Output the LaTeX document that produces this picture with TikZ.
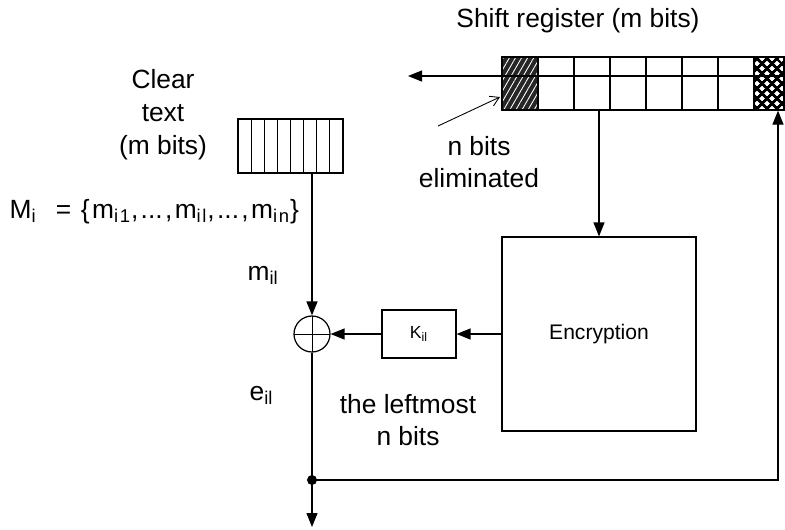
\documentclass[tikz,border=0pt]{standalone}
\usepackage{fontspec}
\setmainfont{Liberation Sans}
\newfontfamily\widefont[LetterSpace=9]{Liberation Sans}
\usetikzlibrary{arrows.meta,patterns.meta}

\tikzset{
	arr/.style={-{Triangle[length=0.28cm,width=0.22cm]}},
	blk/.style={draw, line width=0.7pt, inner sep=0pt},
	lbl/.style={font=\fontsize{15}{18.7}\selectfont, inner sep=0pt, align=center},
}
\newcommand{\sbs}[1]{\textsubscript{#1}}

\begin{document}
\begin{tikzpicture}[x=0.02cm, y=-0.02cm, line width=0.7pt]
	\useasboundingbox (0,0) rectangle (785,529);
	% Shift register:
	\fill[black!85] (502,57) rectangle (538,110);
	\fill[pattern={Lines[angle=60,distance=3pt,line width=0.5pt]}, pattern color=white] (502,57) rectangle (538,110);
	\fill[pattern={Lines[angle=45,distance=0.14cm,line width=0.06cm]}] (754,57) rectangle (784,110);
	\fill[pattern={Lines[angle=-45,distance=0.14cm,line width=0.06cm]}] (754,57) rectangle (784,110);
	\node[blk, minimum width=5.64cm, minimum height=1.06cm] (reg) at (643,83.5) {};
	\draw (reg.west |- 0,76) -- (reg.east |- 0,76);
	\foreach \x in {538,574,...,754} \draw (\x,57) -- (\x,110);
	% Clear text block:
	\node[blk, minimum width=2.1cm, minimum height=1.08cm] (clr) at (290.5,146) {};
	\foreach \k in {1,...,7} \draw ({238+13.125*\k},119) -- ({238+13.125*\k},173);
	% Other blocks:
	\node[blk, minimum width=3.88cm, minimum height=3.88cm, font=\fontsize{12}{14}\selectfont] (enc) at (599,334) {Encryption};
	\node[blk, minimum width=1.48cm, minimum height=0.96cm, font=\fontsize{10}{12}\selectfont] (kil) at (419,334) {K\sbs{il}};
	\node[draw, circle, minimum size=0.72cm, inner sep=0pt, path picture={\draw[line width=0.5pt] (path picture bounding box.north) -- (path picture bounding box.south) (path picture bounding box.west) -- (path picture bounding box.east);}] (xor) at (312,334) {};
	% Labels:
	\node[lbl] (title) at (578,21) {Shift register (m bits)};
	\node[lbl] (cleartxt) at (163,115) {Clear\\text\\(m bits)};
	\node[lbl, anchor=base west, font=\widefont\fontsize{15}{18.7}\selectfont] (mset) at (9,218) {M\sbs{i}\ \ = \{m\sbs{i1},.\kern0pt.\kern0pt.,m\sbs{il},.\kern0pt.\kern0pt.,m\sbs{in}\}};
	\node[lbl, anchor=base west] (mil) at (247,280) {m\sbs{il}};
	\node[lbl, anchor=base west] (eil) at (249,400) {e\sbs{il}};
	\node[lbl] (elim) at (479,162) {n bits\\eliminated};
	\node[lbl] (lmost) at (408,420) {the leftmost\\n bits};
	% Wires:
	\coordinate (regout) at (408,76);
	\coordinate (eltail) at (438,126);
	\coordinate (eltip) at (500,97);
	\coordinate (tap) at (312,480);
	\coordinate (out) at (312,527);
	\coordinate (fb) at (778,480);
	\draw[arr] (reg.west |- regout) -- (regout);
	\draw[line width=0.5pt, -{Straight Barb[length=5pt,width=6pt]}] (eltail) -- (eltip);
	\draw[arr] (reg.south -| enc.north) -- (enc.north);
	\draw[arr] (enc) -- (kil);
	\draw[arr] (kil) -- (xor);
	\draw[arr] (clr.south -| xor) -- (xor.north);
	\draw[arr] (xor.south) -- (out);
	\fill (tap) circle (0.1cm);
	\draw[arr] (tap) -- (fb) -- (fb |- reg.south);
\end{tikzpicture}
\end{document}
